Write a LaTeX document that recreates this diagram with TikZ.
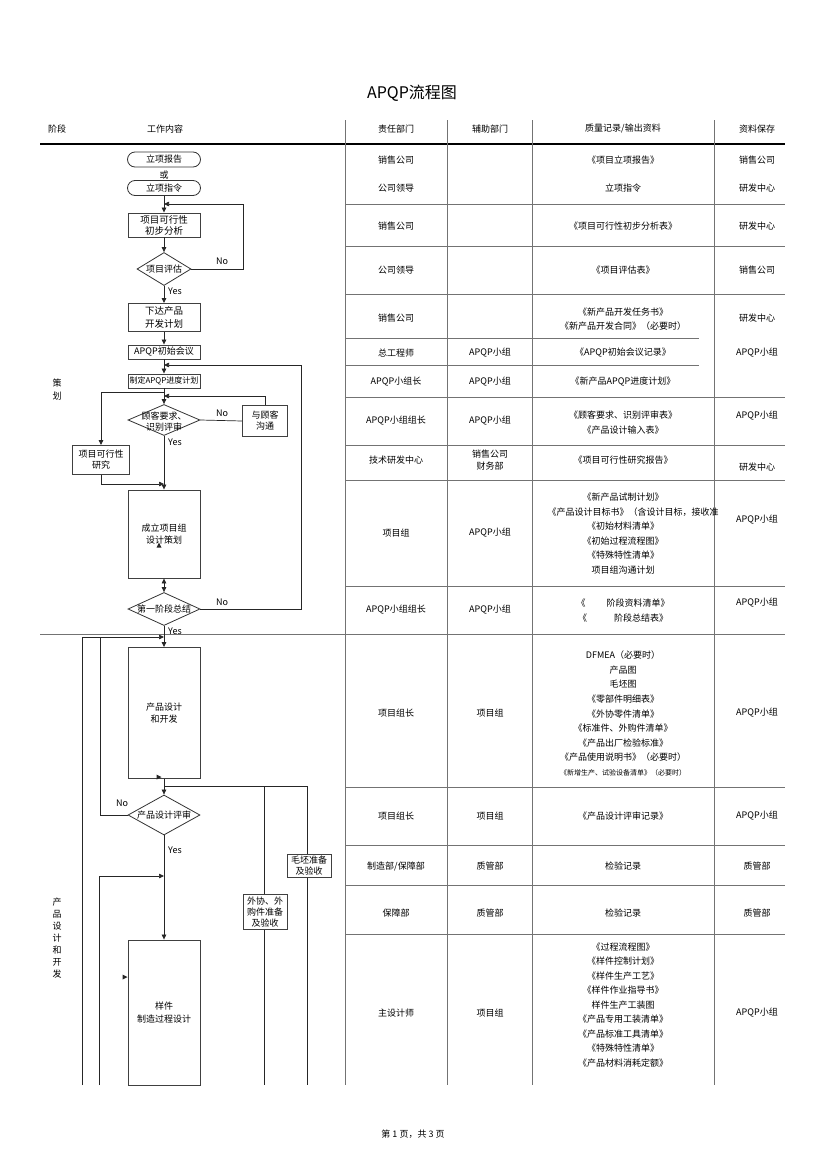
\documentclass[tikz,border=0pt]{standalone}
\usepackage{fontspec}
\newfontfamily\cjk{Noto Sans CJK SC}
\usetikzlibrary{shapes.geometric,arrows.meta}
\begin{document}
\begin{tikzpicture}[x=1pt,y=-1pt,
  every node/.style={font=\cjk\fontsize{9}{11}\selectfont, inner sep=0pt, align=center},
  tline/.style={draw=black!55, line width=0.7pt},
  flow/.style={draw=black!85, line width=0.7pt},
  arr/.style={flow, -{Triangle[length=5pt,width=4.5pt]}},
  darr/.style={flow, {Triangle[length=5pt,width=4.5pt]}-{Triangle[length=5pt,width=4.5pt]}},
  box/.style={draw=black!75, line width=0.9pt, fill=white},
  term/.style={draw=black!80, line width=0.8pt, rounded corners=7.5pt, minimum width=73, minimum height=15, fill=white},
  diam/.style={diamond, draw=black!80, line width=0.8pt, fill=white},
  lbl/.style={font=\cjk\fontsize{9}{11}\selectfont},
  ml/.style={font=\cjk\fontsize{9}{14.6}\selectfont}
]
\fill[white] (0,0) rectangle (827,1170);
\useasboundingbox (0,0) rectangle (827,1170);

% title and header
\node[font=\cjk\fontsize{16}{18}\selectfont] (title) at (412,93) {APQP流程图};
\node (h1) at (57,129) {阶段};
\node (h2) at (165,129) {工作内容};
\node (h3) at (396,129) {责任部门};
\node (h4) at (490,129) {辅助部门};
\node (h5) at (623,129) {质量记录/输出资料};
\node (h6) at (757,129) {资料保存};
\draw[line width=2.5pt] (40,144) -- (785,144);

% table grid
\foreach \x in {345,447,532,714} \draw[tline] (\x,120) -- (\x,1085);
\foreach \y in {204,246,294,397,445,480,586,787,845,885,934} \draw[tline] (345,\y) -- (785,\y);
\foreach \y in {338,365} \draw[tline] (345,\y) -- (699,\y);
\draw[tline] (40,634) -- (785,634);

% table text
\node (r1a) at (396,160) {销售公司};
\node (r1b) at (623,160) {《项目立项报告》};
\node (r1c) at (757,160) {销售公司};
\node (r2a) at (396,188) {公司领导};
\node (r2b) at (623,188) {立项指令};
\node (r2c) at (757,188) {研发中心};
\node (r3a) at (396,226) {销售公司};
\node (r3b) at (623,226) {《项目可行性初步分析表》};
\node (r3c) at (757,226) {研发中心};
\node (r4a) at (396,270) {公司领导};
\node (r4b) at (623,270) {《项目评估表》};
\node (r4c) at (757,270) {销售公司};
\node (r5a) at (396,318) {销售公司};
\node[ml] (r5b) at (623,319) {《新产品开发任务书》\\《新产品开发合同》（必要时）};
\node (r5c) at (757,318) {研发中心};
\node (r6a) at (396,353) {总工程师};
\node (r6d) at (490,353) {APQP小组};
\node (r6b) at (623,353) {《APQP初始会议记录》};
\node (r6c) at (757,353) {APQP小组};
\node (r7a) at (396,382) {APQP小组长};
\node (r7d) at (490,382) {APQP小组};
\node (r7b) at (623,382) {《新产品APQP进度计划》};
\node (r8a) at (396,421) {APQP小组组长};
\node (r8d) at (490,421) {APQP小组};
\node[ml] (r8b) at (623,422.5) {《顾客要求、识别评审表》\\《产品设计输入表》};
\node (r8c) at (757,416) {APQP小组};
\node (r9a) at (396,460) {技术研发中心};
\node[font=\cjk\fontsize{9}{12}\selectfont] (r9d) at (490,460) {销售公司\\财务部};
\node (r9b) at (623,460) {《项目可行性研究报告》};
\node (r9c) at (757,467) {研发中心};
\node (r10a) at (396,533) {项目组};
\node (r10d) at (490,533) {APQP小组};
\node[ml] (r10b) at (623,533.5) {《新产品试制计划》\\\hspace*{20pt}《产品设计目标书》（含设计目标，接收准\\《初始材料清单》\\《初始过程流程图》\\《特殊特性清单》\\项目组沟通计划};
\node (r10c) at (757,520) {APQP小组};
\node (r11a) at (396,610) {APQP小组组长};
\node (r11d) at (490,610) {APQP小组};
\node[ml] (r11b) at (623,610.5) {《\,\,　　阶段资料清单》\\《　　　阶段总结表》};
\node (r11c) at (757,603) {APQP小组};
\node (r12a) at (396,713) {项目组长};
\node (r12d) at (490,713) {项目组};
\node[ml] (r12b) at (623,713.5) {DFMEA（必要时）\\产品图\\毛坯图\\《零部件明细表》\\《外协零件清单》\\《标准件、外购件清单》\\《产品出厂检验标准》\\《产品使用说明书》（必要时）\\{\fontsize{7}{14.6}\selectfont 《新增生产、试验设备清单》（必要时）}};
\node (r12c) at (757,713) {APQP小组};
\node (r13a) at (396,816) {项目组长};
\node (r13d) at (490,816) {项目组};
\node (r13b) at (623,816) {《产品设计评审记录》};
\node (r13c) at (757,816) {APQP小组};
\node (r14a) at (396,866) {制造部/保障部};
\node (r14d) at (490,866) {质管部};
\node (r14b) at (623,866) {检验记录};
\node (r14c) at (757,866) {质管部};
\node (r15a) at (396,913) {保障部};
\node (r15d) at (490,913) {质管部};
\node (r15b) at (623,913) {检验记录};
\node (r15c) at (757,913) {质管部};
\node (r16a) at (396,1013) {主设计师};
\node (r16d) at (490,1013) {项目组};
\node[font=\cjk\fontsize{9}{14.5}\selectfont] (r16b) at (623,1005) {《过程流程图》\\《样件控制计划》\\《样件生产工艺》\\《样件作业指导书》\\样件生产工装图\\《产品专用工装清单》\\《产品标准工具清单》\\《特殊特性清单》\\《产品材料消耗定额》};
\node (r16c) at (757,1013) {APQP小组};

% phase labels
\node[font=\cjk\fontsize{9}{13}\selectfont] (p1) at (57,389.5) {策\\划};
\node[font=\cjk\fontsize{9}{12}\selectfont] (p2) at (57,938) {产\\品\\设\\计\\和\\开\\发};

% footer
\node (foot) at (413,1134) {第 1 页，共 3 页};

% flowchart nodes
\node[term] (t1) at (164,159.5) {立项报告};
\node (or) at (164,175) {或};
\node[term] (t2) at (164,188) {立项指令};
\node[box, minimum width=72, minimum height=24, font=\cjk\fontsize{9.5}{11}\selectfont] (b1) at (164,225) {项目可行性\\初步分析};
\node[diam, minimum width=54, minimum height=33] (d1) at (164,269) {};
\node (d1t) at (d1) {项目评估};
\node[box, minimum width=72, minimum height=28, font=\cjk\fontsize{9.5}{13}\selectfont] (b2) at (164,317.5) {下达产品\\开发计划};
\node[box, minimum width=72, minimum height=14] (b3) at (164,352) {APQP初始会议};
\node[box, minimum width=72, minimum height=14, font=\cjk\fontsize{8}{10}\selectfont] (b4) at (164,381) {制定APQP进度计划};
\node[diam, minimum width=72, minimum height=31] (d2) at (164,420) {};
\node (d2t) at (164,422) {顾客要求、\\识别评审};
\node[box, minimum width=45, minimum height=31] (b6) at (265,421) {与顾客\\沟通};
\node[box, minimum width=57, minimum height=29] (b5) at (101,460) {项目可行性\\研究};
\node[box, minimum width=72, minimum height=88, font=\cjk\fontsize{9}{12}\selectfont] (b7) at (164,534) {成立项目组\\设计策划};
\node[diam, minimum width=72, minimum height=33] (d3) at (164,609) {};
\node (d3t) at (d3) {第一阶段总结};
\node[box, minimum width=72, minimum height=131, font=\cjk\fontsize{9}{12}\selectfont] (b8) at (164,713) {产品设计\\和开发};
\node[diam, minimum width=72, minimum height=40] (d4) at (164,815) {};
\node (d4t) at (d4) {产品设计评审};
\node[box, minimum width=44, minimum height=23] (b9) at (309,865.7) {毛坯准备\\及验收};
\node[box, minimum width=44, minimum height=35] (b10) at (265,911.7) {外协、外\\购件准备\\及验收};
\node[box, minimum width=72, minimum height=145, font=\cjk\fontsize{9}{13}\selectfont] (b11) at (164,1012.5) {样件\\制造过程设计};

% labels
\node (no1) at (222,261) {No};
\node (yes1) at (175,291) {Yes};
\node (no2) at (222,413) {No};
\node (yes2) at (175,442) {Yes};
\node (no3) at (222,602) {No};
\node (yes3) at (175,631) {Yes};
\node (no4) at (122,803) {No};
\node (yes4) at (175,850) {Yes};

% coordinates
\coordinate (j1) at (164,204);
\coordinate (c1) at (243,269);
\coordinate (j2) at (164,365);
\coordinate (c2) at (301,609);
\coordinate (j3) at (164,392);
\coordinate (j4) at (164,396);
\coordinate (j5) at (164,484);
\coordinate (j6) at (164,637);
\coordinate (c3) at (82,1085);
\coordinate (c4) at (100,637);
\coordinate (j7) at (164,786);
\coordinate (j8) at (307,786);
\coordinate (j9) at (264,786);
\coordinate (e307) at (307,1085);
\coordinate (e264) at (264,1085);
\coordinate (c5) at (99,1085);
\coordinate (j10) at (164,876);

% connectors
\draw[arr] (t2.south) -- (b1.north);
\draw[arr] (d1.east) -- (c1) |- (j1);
\draw[arr] (b1.south) -- (d1.north);
\draw[arr] (d1.south) -- (b2.north);
\draw[arr] (b2.south) -- (b3.north);
\draw[arr] (b3.south) -- (b4.north);
\draw[arr] (d3.east) -- (c2) |- (j2);
\draw[arr] (b4.south) -- (d2.north);
\draw[arr] (j3) -| (b5.north);
\draw[arr] (b6.north) |- (j4);
\draw[flow] (d2.east) -- (b6.west);
\draw[arr] (d2.south) -- (b7.north);
\draw[arr] (b5.south) |- (j5);
\draw[darr] (b7.south) -- (d3.north);
\draw[arr] (d3.south) -- (b8.north);
\draw[arr] (c3) |- (j6);
\draw[flow] (d4.west) -| (c4);
\draw[arr] (b8.south) -- (d4.north);
\draw[flow] (j7) -- (j8) -- (j8 |- b9.north);
\draw[flow] (j8 |- b9.south) -- (e307);
\draw[flow] (j9) -- (j9 |- b10.north);
\draw[flow] (j9 |- b10.south) -- (e264);
\draw[arr] (d4.south) -- (b11.north);
\draw[arr] (c5) |- (j10);

% stray arrow marks
\fill[black!85] (156.5,774.5) -- (161.5,777) -- (156.5,779.5) -- cycle;
\fill[black!85] (156.5,547.5) -- (159,542.5) -- (161.5,547.5) -- cycle;
\fill[black!85] (122.5,974.5) -- (127.5,977) -- (122.5,979.5) -- cycle;
\end{tikzpicture}
\end{document}
